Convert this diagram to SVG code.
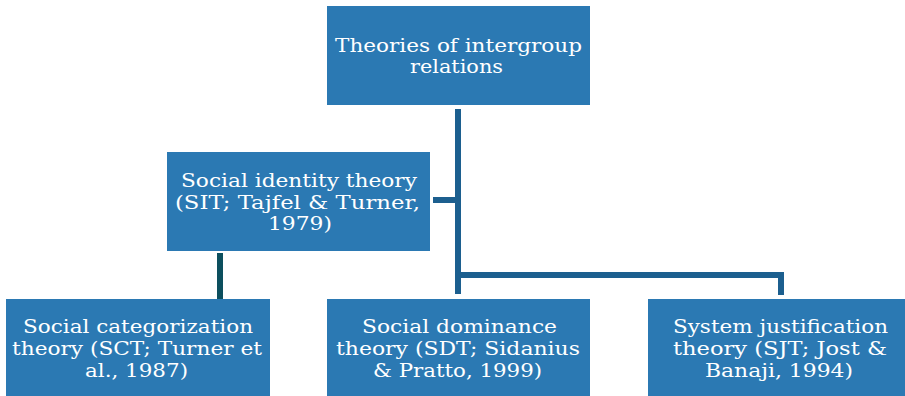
<svg xmlns="http://www.w3.org/2000/svg" width="905" height="396" viewBox="0 0 905 396">
<style>
.box{fill:#2b79b3}
.t{font-family:"DejaVu Serif","Liberation Serif",serif;font-size:19px;fill:#ffffff;text-anchor:middle}
.c{stroke:#1c5f8f;stroke-width:6;fill:none}
.c2{stroke:#0c4f5e;stroke-width:6;fill:none}
</style>
<rect width="905" height="396" fill="#ffffff"/>
<g id="connectors">
<path class="c" d="M458 109 V294"/>
<path class="c" d="M458 275 H781 V295"/>
<path class="c" d="M433 200 H458"/>
<path class="c2" d="M220 253 V299"/>
</g>
<g id="root">
<rect class="box" x="327" y="6" width="263" height="99"/>
<text class="t" x="458.5" y="52" textLength="247" lengthAdjust="spacingAndGlyphs">Theories of intergroup</text>
<text class="t" x="456.5" y="73" textLength="93" lengthAdjust="spacingAndGlyphs">relations</text>
</g>
<g id="sit">
<rect class="box" x="167" y="152" width="263" height="99"/>
<text class="t" x="299" y="187" textLength="236" lengthAdjust="spacingAndGlyphs">Social identity theory</text>
<text class="t" x="297.5" y="209" textLength="245" lengthAdjust="spacingAndGlyphs">(SIT; Tajfel &amp; Turner,</text>
<text class="t" x="300" y="230" textLength="64" lengthAdjust="spacingAndGlyphs">1979)</text>
</g>
<g id="sct">
<rect class="box" x="6" y="299" width="264" height="97"/>
<text class="t" x="138" y="333" textLength="230" lengthAdjust="spacingAndGlyphs">Social categorization</text>
<text class="t" x="137" y="355" textLength="250" lengthAdjust="spacingAndGlyphs">theory (SCT; Turner et</text>
<text class="t" x="136.5" y="377" textLength="103" lengthAdjust="spacingAndGlyphs">al., 1987)</text>
</g>
<g id="sdt">
<rect class="box" x="327" y="299" width="263" height="97"/>
<text class="t" x="459.5" y="333" textLength="195" lengthAdjust="spacingAndGlyphs">Social dominance</text>
<text class="t" x="458" y="355" textLength="244" lengthAdjust="spacingAndGlyphs">theory (SDT; Sidanius</text>
<text class="t" x="457.5" y="377" textLength="169" lengthAdjust="spacingAndGlyphs">&amp; Pratto, 1999)</text>
</g>
<g id="sjt">
<rect class="box" x="648" y="299" width="257" height="97"/>
<text class="t" x="780.5" y="333" textLength="215" lengthAdjust="spacingAndGlyphs">System justification</text>
<text class="t" x="780" y="355" textLength="214" lengthAdjust="spacingAndGlyphs">theory (SJT; Jost &amp;</text>
<text class="t" x="779" y="377" textLength="148" lengthAdjust="spacingAndGlyphs">Banaji, 1994)</text>
</g>
</svg>
